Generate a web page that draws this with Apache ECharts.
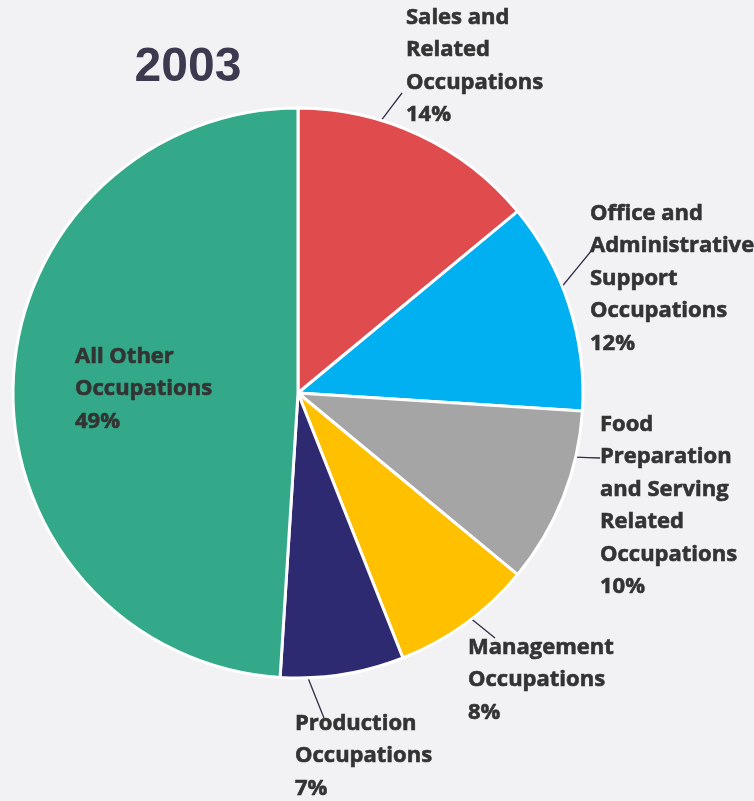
<!DOCTYPE html>
<html>
<head>
<meta charset="utf-8">
<script src="https://cdn.jsdelivr.net/npm/echarts@6/dist/echarts.min.js"></script>
<style>
  html, body { margin: 0; padding: 0; background: #f2f2f5; }
  #chart { width: 754px; height: 801px; }
</style>
</head>
<body>
<div id="chart"></div>
<script>
// Occupation shares, 2003 (percent)
const categories = [
  'Sales and\nRelated\nOccupations',
  'Office and\nAdministrative\nSupport\nOccupations',
  'Food\nPreparation\nand Serving\nRelated\nOccupations',
  'Management\nOccupations',
  'Production\nOccupations',
  'All Other\nOccupations'
];
const shares = [14, 12, 10, 8, 7, 49];
const sliceColors = ['#e04b4e', '#00b0f0', '#a5a5a5', '#ffc000', '#2e2a72', '#33a98a'];
const yearTitle = '2003';

// Label placement: top-left corner of each text block, plus leader line
// (start angle on the rim measured clockwise from 12 o'clock, and end point)
const labelSpots = [
  { x: 406, y: 1,   lineAngle: 17,  lineEnd: [402, 93] },
  { x: 590, y: 197, lineAngle: 68,  lineEnd: [592, 250] },
  { x: 600, y: 408, lineAngle: 103, lineEnd: [600, 458] },
  { x: 468, y: 631, lineAngle: 142.5, lineEnd: [495, 638] },
  { x: 295, y: 707, lineAngle: 178, lineEnd: [324, 718] },
  { x: 75,  y: 340, lineAngle: null, lineEnd: null }
];

const center = [298, 393];
const radius = 285;

const chart = echarts.init(document.getElementById('chart'));
chart.setOption({
  backgroundColor: '#f2f2f5',
  animation: false,
  title: {
    text: yearTitle,
    left: 183,
    top: 39,
    textAlign: 'center',
    textStyle: {
      fontFamily: 'Liberation Sans, Arial, sans-serif',
      fontWeight: 'bold',
      fontSize: 48,
      color: '#3b3a4f'
    }
  },
  series: [{
    type: 'pie',
    center: center,
    radius: radius,
    startAngle: 90,
    clockwise: true,
    avoidLabelOverlap: false,
    itemStyle: { borderColor: '#ffffff', borderWidth: 3 },
    label: {
      show: true,
      formatter: p => p.name + '\n' + p.value + '%',
      fontFamily: 'Open Sans, sans-serif',
      fontWeight: 700,
      fontSize: 22,
      lineHeight: 32.5,
      color: '#333333',
      textBorderColor: '#333333',
      textBorderWidth: 0.6,
      align: 'left',
      overflow: 'none',
      width: 300
    },
    labelLine: {
      show: true,
      lineStyle: { color: '#2f2e45', width: 1.3 }
    },
    labelLayout: function (params) {
      const s = labelSpots[params.dataIndex];
      const out = { x: s.x, y: s.y, align: 'left', verticalAlign: 'top' };
      if (s.lineAngle !== null) {
        const a = s.lineAngle * Math.PI / 180;
        const start = [center[0] + radius * Math.sin(a), center[1] - radius * Math.cos(a)];
        const mid = [(start[0] + s.lineEnd[0]) / 2, (start[1] + s.lineEnd[1]) / 2];
        out.labelLinePoints = [start, mid, s.lineEnd];
      }
      return out;
    },
    data: categories.map((name, i) => ({
      name: name,
      value: shares[i],
      itemStyle: { color: sliceColors[i] },
      label: { position: i === 5 ? 'inside' : 'outside' },
      labelLine: { show: i !== 5 }
    }))
  }]
});
</script>
</body>
</html>
